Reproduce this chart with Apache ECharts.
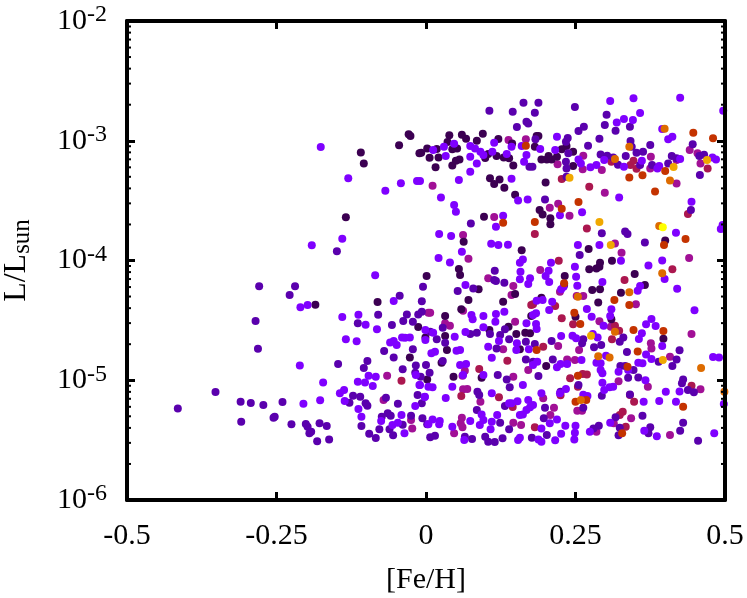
<!DOCTYPE html>
<html>
<head>
<meta charset="utf-8">
<style>
  html, body { margin: 0; padding: 0; background: #fff; }
  #main { width: 747px; height: 598px; }
</style>
<script src="https://cdn.jsdelivr.net/npm/echarts@6/dist/echarts.min.js"></script>
</head>
<body>
<div id="main"></div>
<script>
// every point is [Fe/H, log10(L/Lsun)], grouped by marker colour
const darkPoints = [[-0.109,-3.099],[-0.104,-3.191],[-0.134,-3.639],[-0.045,-3.038],[-0.029,-2.946],[-0.026,-2.960],[-0.011,-3.105],
[-0.008,-3.100],[0.002,-3.064],[0.018,-3.069],[0.006,-3.142],[0.021,-3.139],[0.039,-2.955],[0.036,-3.011],[0.044,-3.072],[0.052,-3.064],[0.060,-2.949],[0.067,-2.983],[0.085,-3.000],[0.095,-2.941],[0.044,-3.206],[0.016,-3.222],[0.056,-3.156],[0.050,-3.167],
[0.099,-3.144],[0.104,-3.111],[0.121,-2.986],[0.118,-3.128],[0.130,-3.139],[0.139,-3.147],[0.144,-3.022],[0.146,-3.206],[0.182,-3.050],[0.185,-2.961],[0.188,-2.961],[0.227,-3.072],[0.235,-3.044],[0.246,-3.091],[0.246,-3.211],[0.202,-3.156],[0.210,-3.156],[0.193,-3.156],[0.205,-3.128],[0.219,-3.133],
[0.107,-3.314],[0.123,-3.323],[0.114,-3.361],[0.131,-3.392],[0.149,-3.451],[0.200,-3.348],[0.190,-3.579],[0.195,-3.615],[0.208,-3.648],[0.208,-3.698],[0.097,-3.634],[0.063,-3.843],[0.160,-3.915],[0.272,-3.904],[0.400,-3.832],[0.291,-4.018],[0.290,-4.052],[0.055,-4.071],[0.311,-4.002],[0.273,-4.074],
[-0.185,-4.369],[-0.081,-4.347],[0.001,-4.130],[-0.013,-4.555],[-0.001,-4.642],[-0.027,-4.809],[0.002,-4.993],
[0.057,-4.121],[0.088,-4.241],[0.071,-4.330],[0.059,-4.408],[0.032,-4.464],[0.032,-4.631],[0.035,-4.748],[0.026,-4.853],[0.046,-4.970],[0.093,-4.979],[0.106,-4.581],[0.138,-4.553],[0.166,-4.603],[0.174,-4.608],[0.151,-4.614],[0.193,-4.311],[0.176,-4.464],[0.232,-4.130],[0.231,-4.205],[0.285,-4.066],[0.278,-4.246],[0.291,-4.241],[0.288,-4.350],[0.250,-4.469],[0.201,-4.881],[0.157,-4.742],[0.129,-4.344],[0.149,-4.280],[0.310,-4.491],[0.366,-4.205],[0.349,-4.113],[0.326,-4.269],[0.397,-4.653]];

const indigoPoints = [[-0.149,-3.923],
[0.106,-2.749],[0.145,-2.757],[0.163,-2.682],[0.188,-2.682],[0.182,-2.766],[0.152,-2.885],[0.168,-2.841],[0.171,-2.855],[0.249,-2.718],[0.255,-2.919],[0.264,-2.883],[0.302,-2.782],[0.299,-2.869],[0.317,-2.916],[0.341,-2.883],[0.290,-2.983],[0.342,-3.002],[0.344,-3.050],[0.375,-3.036],[0.271,-3.041],[0.352,-3.100],[0.363,-3.091],[0.334,-3.128],[0.292,-3.114],[0.303,-3.125],[0.313,-3.139],[0.321,-3.200],[0.358,-3.203],[0.378,-3.203],[0.405,-3.189],[0.411,-3.128],[0.419,-3.147],[0.457,-3.128],[0.465,-3.117],[0.458,-3.286],[0.446,-3.030],[0.366,-3.849],[0.337,-3.779],[0.333,-3.757],[0.294,-3.773],[0.443,-3.579],[0.257,-3.954],[0.075,-3.690],[0.178,-3.217],[0.173,-3.217],[0.235,-3.231],[0.234,-3.175],[0.235,-3.300],[0.238,-3.105],[0.234,-3.008],[0.237,-2.977],[0.183,-2.988],[0.199,-3.490],
[-0.415,-5.235],[-0.352,-5.098],[-0.310,-5.179],[-0.293,-5.190],[-0.272,-5.207],[-0.240,-5.182],[-0.309,-5.346],[-0.253,-5.304],[-0.255,-5.313],[-0.225,-5.368],[-0.201,-5.365],[-0.198,-5.388],[-0.195,-5.443],[-0.192,-5.430],[-0.178,-5.360],[-0.166,-5.382],[-0.182,-5.510],[-0.162,-5.494],[-0.279,-4.216],[-0.219,-4.216],[-0.228,-4.288],[-0.285,-4.505],[-0.281,-4.736],[-0.147,-4.864],[-0.104,-4.898],[-0.098,-4.839],[-0.070,-4.756],[-0.054,-4.809],[-0.039,-4.909],[-0.022,-4.742],[-0.018,-4.937],[-0.017,-4.876],[0,-4.873],[-0.122,-5.129],[-0.110,-5.137],[-0.128,-5.187],[-0.101,-5.193],[-0.098,-5.212],[-0.108,-5.382],[-0.095,-5.446],[-0.084,-5.482],[-0.078,-5.410],[-0.061,-5.410],[-0.055,-5.460],[-0.074,-5.304],[-0.064,-5.276],[-0.059,-5.296],[-0.047,-5.196],[-0.067,-5.146],[-0.025,-5.296],[-0.039,-5.371],[-0.006,-5.318],[0.002,-5.368],[-0.014,-5.123],[-0.007,-5.193],[-0.114,-4.525],[-0.080,-4.453],[-0.057,-4.539],[-0.038,-4.505],[-0.032,-4.450],[-0.022,-4.511],[-0.005,-4.219],[-0.044,-4.294],[-0.007,-4.341],[-0.013,-4.450],[-0.007,-4.427],
[0.053,-4.255],[0.115,-4.085],[0.117,-4.171],[0.131,-4.185],[0.114,-4.163],[0.079,-4.233],[0.006,-4.937],[-0.009,-4.970],[0.028,-4.839],[0.028,-4.561],[0.032,-4.686],[0.007,-4.594],[0.018,-4.658],[0.074,-4.614],[0.085,-4.603],[0.107,-4.614],[0.124,-4.622],[0.132,-4.575],[0.139,-4.658],[0.118,-4.734],[0.167,-4.826],[0.167,-4.678],[0.182,-4.697],[0.210,-4.672],[0.179,-4.845],[0.212,-4.826],[0.188,-4.965],[0.120,-4.956],[0.135,-4.993],[0.140,-5.059],[0.086,-5.095],[0.089,-5.123],[0.085,-5.249],[0.132,-5.215],[0.139,-5.410],[0.124,-5.354],[0.007,-5.477],[0.015,-5.463],[0.065,-5.471],[0.077,-5.491],[0.099,-5.471],[0.104,-5.513],[0.115,-5.516],[0.128,-5.485],[0.177,-5.480],[0.202,-5.457],[0.199,-5.229],[0.197,-5.318],[0.263,-4.658],[0.261,-4.692],[0.281,-4.725],[0.293,-4.706],[0.255,-5.040],[0.225,-5.095],[0.294,-5.129],[0.263,-5.229],[0.324,-4.678],[0.336,-4.764],[0.412,-4.881],[0.419,-4.826],[0.424,-4.750],[0.330,-4.642],[0.325,-4.881],[0.333,-4.881],[0.347,-4.915],[0.355,-4.976],[0.338,-4.979],[0.430,-4.993],[0.428,-5.026],[0.438,-5.082],[0.448,-5.101],[0.341,-5.118],[0.362,-5.296],[0.317,-5.310],[0.324,-5.396],[0.430,-5.354],[0.425,-5.421],[0.455,-5.505],[0.375,-5.393],[0.372,-5.443],[0.322,-5.460],[0.289,-5.379],[0.280,-5.402],[0.389,-4.845]];

const violetPoints = [[-0.176,-3.052],[-0.130,-3.314],[-0.068,-3.417],[-0.042,-3.355],[-0.015,-3.336],[-0.140,-3.818],[-0.191,-3.873],
[0.308,-2.668],[0.347,-2.646],[0.425,-2.641],[0.358,-2.769],[0.331,-2.819],[0.346,-2.827],[0.319,-2.847],[0.395,-2.902],[0.405,-2.988],[0.412,-2.966],[0.497,-2.749],[0.219,-2.966],[0.143,-3.050],[0.114,-3.016],[0.047,-3.025],[0.030,-3.050],[0.012,-3.078],[0.033,-3.128],[0.074,-3.133],[0.085,-3.189],[0.074,-3.258],[0.055,-3.328],[0.143,-3.317],[0.025,-3.473],[0.047,-3.537],[0.050,-3.593],[0.170,-3.490],[0.154,-3.498],[0.117,-3.718],[0.129,-3.626],[0.022,-3.779],[0.042,-3.796],[0.109,-3.860],[0.121,-3.871],[0.137,-3.868],[0.060,-3.927],[0.021,-3.979],[0.040,-4.016],[0.157,-4.018],[0.162,-3.991],[0.209,-4.018],[0.254,-3.871],[0.261,-3.598],[0.224,-3.623],[0.290,-3.871],[0.326,-4.002],[0.372,-4.041],[0.395,-3.999],[0.418,-3.768],[0.323,-3.473],[0.160,-3.044],[0.168,-3.119],[0.164,-3.175],[0.191,-3.069],[0.216,-3.078],[0.255,-3.156],[0.259,-3.189],[0.275,-3.222],[0.285,-3.203],[0.298,-3.161],[0.331,-3.217],[0.361,-3.167],[0.387,-3.231],[0.390,-3.211],[0.425,-3.153],[0.444,-3.509],[0.479,-3.139],[0.485,-3.156],[0.496,-3.704],[0.493,-3.737],[0.096,-3.119],[0.111,-3.091],[0.135,-3.111],[0.074,-3.044],[0.091,-3.091],[0.082,-3.064],[-0.010,-3.336],
[-0.210,-4.391],[-0.198,-4.372],[-0.211,-4.876],[-0.140,-4.472],[-0.101,-4.536],[-0.082,-4.575],[-0.085,-4.124],[-0.054,-4.338],[-0.113,-4.453],[-0.134,-4.658],[-0.116,-4.675],[-0.060,-4.684],[-0.054,-4.672],[-0.049,-4.706],[-0.040,-4.642],[-0.035,-4.645],[-0.027,-4.642],[-0.001,-4.581],[-0.001,-4.664],[-0.096,-4.962],[-0.084,-4.970],[-0.114,-5.012],[-0.102,-5.018],[-0.089,-5.048],[-0.172,-5.018],[-0.144,-5.109],[-0.137,-5.082],[-0.177,-5.168],[-0.205,-5.196],[-0.136,-5.173],[-0.113,-5.240],[-0.108,-5.304],[-0.075,-5.340],[-0.047,-5.354],[-0.041,-5.290],[-0.036,-5.443],[-0.018,-5.215],[-0.002,-5.140],[-0.011,-5.040],[-0.017,-4.956],[-0.056,-5.374],
[0.249,-4.052],[0.158,-4.093],[0.174,-4.149],[0.171,-4.196],[0.200,-4.130],[0.205,-4.085],[0.206,-4.180],[0.157,-4.157],[0.251,-4.135],[0.253,-4.210],[0.226,-4.241],[0.230,-4.219],[0.295,-4.180],[0.354,-4.252],[0.358,-4.213],[0.399,-4.155],[0.420,-4.235],[0.066,-4.205],[0.012,-4.603],[0.048,-4.636],[0.066,-4.597],[0.096,-4.464],[0.076,-4.455],[0.078,-4.491],[0.117,-4.447],[0.131,-4.427],[0.116,-4.511],[0.168,-4.525],[0.179,-4.455],[0.184,-4.441],[0.184,-4.530],[0.185,-4.572],[0.206,-4.414],[0.211,-4.344],[0.185,-4.336],[0.195,-4.330],[0.269,-4.405],[0.277,-4.469],[0.297,-4.544],[0.310,-4.408],[0.308,-4.464],[0.096,-4.558],[0.122,-4.672],[0.104,-4.720],[0.152,-4.692],[0.151,-4.748],[0.172,-4.742],[0.110,-4.812],[0.179,-4.873],[0.186,-4.845],[0.226,-4.631],[0.245,-4.628],[0.251,-4.650],[0.279,-4.614],[0.287,-4.642],[0.285,-4.853],[0.292,-4.859],[0.301,-4.795],[0.260,-4.831],[0.236,-4.864],[0.225,-4.864],[0.219,-4.892],[0.292,-4.915],[0.295,-4.942],[0.322,-4.929],[0.338,-4.915],[0.355,-4.853],[0.362,-4.859],[0.368,-4.784],[0.377,-4.823],[0.368,-4.533],[0.377,-4.489],[0.384,-4.547],[0.361,-4.608],[0.356,-4.656],[0.395,-4.714],[0.449,-4.416],[0.490,-4.809],[0.480,-4.806],[0.057,-4.873],[0.067,-4.864],[0.051,-4.753],[0.057,-4.748],[0.009,-4.775],[0.015,-4.761],[0.062,-4.956],[0.096,-4.956],[0.044,-5.054],[0.011,-5.059],[0.004,-5.054],[-0.010,-5.040],[-0.002,-5.137],[0.033,-5.148],[0.110,-5.109],[0.162,-5.040],[0.193,-5.109],[0.171,-5.165],[0.153,-5.176],[0.143,-5.193],[0.139,-5.193],[0.179,-5.207],[0.174,-5.226],[0.168,-5.249],[0.162,-5.285],[0.157,-5.290],[0.119,-5.290],[0.093,-5.285],[0.096,-5.332],[0.074,-5.340],[0.090,-5.374],[0.110,-5.346],[0.108,-5.410],[0.219,-5.327],[0.207,-5.360],[0.193,-5.402],[0.233,-5.379],[0.250,-5.379],[0.249,-5.438],[0.248,-5.494],[0.226,-5.446],[0.216,-5.502],[0.193,-5.513],[0.188,-5.494],[0.154,-5.499],[0.157,-5.480],[0.064,-5.499],[0.023,-5.340],[0.022,-5.368],[0.011,-5.327],[0.004,-5.368],[0.044,-5.388],[0.263,-5.121],[0.270,-5.132],[0.234,-5.073],[0.224,-5.109],[0.295,-5.020],[0.313,-5.054],[0.307,-5.059],[0.298,-5.082],[0.367,-5.001],[0.390,-5.173],[0.364,-5.179],[0.401,-5.095],[0.418,-5.179],[0.424,-5.093],[0.498,-5.198],[0.482,-5.443],[0.274,-5.430],[0.308,-5.354],[0.365,-5.421],[0.386,-5.468]];

const magentaPoints = [[0.011,-3.375],[0.138,-2.994],[0.167,-2.988],[0.220,-3.197],[0.263,-3.125],[0.376,-3.133],[0.299,-3.434],[0.221,-3.526],[0.207,-3.559],[0.240,-3.626],[0.114,-3.637],[0.062,-3.787],[0.071,-3.985],[0.327,-3.935],[0.440,-3.979],[0.316,-3.857],[0.419,-3.356],[0.441,-3.078],[0.454,-3.105],[0.459,-3.189],[0.294,-3.245],[0.262,-3.239],[0.375,-3.231],[0.419,-3.161],[0.191,-4.080],
[-0.065,-4.962],[-0.023,-5.402],[-0.071,-5.165],[-0.025,-5.332],[0.004,-4.436],
[0.146,-4.213],[0.143,-4.288],[0.007,-4.436],[0.062,-4.419],[0.040,-4.544],[0.032,-4.525],[0.129,-4.742],[0.149,-4.511],[0.221,-4.714],[0.256,-4.748],[0.249,-4.831],[0.236,-4.826],[0.196,-5.151],[0.214,-5.229],[0.208,-5.290],[0.060,-5.313],[0.058,-5.360],[0.061,-5.393],[0.047,-5.443],[0.146,-5.354],[0.159,-5.374],[0.091,-5.179],[0.062,-5.076],[0.069,-5.073],[0.146,-4.970],[0.171,-4.915],[0.065,-4.920],[0.061,-4.962],[0.290,-4.508],[0.309,-4.553],[0.314,-5.360],[0.285,-5.430],[0.343,-5.318],[0.408,-5.457],[0.322,-5.009],[0.253,-5.254],[0.261,-5.254],[0.371,-5.054],[0.459,-5.076],[0.376,-4.692],[0.377,-4.734],[0.351,-4.366],[0.104,-4.149],[0.252,-4.297],[0.263,-4.297],[0.224,-4.260],[0.444,-4.614],[0.408,-4.803]];

const crimsonPoints = [[0.227,-3.320],[0.273,-3.384],[0.269,-3.732],[0.182,-3.779],[0.438,-3.612],[0.471,-3.231],[0.352,-3.233],[0.342,-3.203],[0.310,-3.175],[0.347,-3.167],[0.412,-4.074],[0.222,-4.002],
[-0.041,-5.004],
[0.136,-4.837],[0.179,-4.366],[0.176,-4.372],[0.216,-4.380],[0.227,-4.483],[0.246,-4.533],[0.196,-4.720],[0.241,-4.984],[0.262,-4.948],[0.269,-4.951],[0.254,-5.054],[0.225,-5.126],[0.122,-5.143],[0.145,-5.224],[0.182,-5.393],[0.324,-5.290],[0.329,-5.263],[0.334,-5.388],[0.341,-5.123],[0.348,-5.179],[0.316,-4.544],[0.323,-4.586],[0.311,-4.658],[0.444,-5.045],[0.059,-5.132],[0.332,-4.163],[0.089,-4.906]];

const redPoints = [[0.167,-3.041],[0.255,-3.512],[0.227,-3.567],[0.129,-3.684],[0.182,-3.679],[0.383,-3.423],[0.398,-3.871],[0.434,-3.821],[0.400,-3.253],[0.340,-3.306],[0.362,-3.289],[0.447,-2.933],[0.480,-2.980],
[0.185,-4.748],[0.248,-4.436],[0.258,-4.530],[0.315,-4.330],[0.340,-4.372],[0.250,-5.179],[0.268,-5.165],[0.430,-5.221],[0.328,-5.443],[0.347,-4.581],[0.337,-4.887],[0.254,-4.962],[0.354,-4.759],[0.397,-4.589],[0.231,-4.191]];

const orangePoints = [[0.399,-2.899],[0.408,-3.331],[0.390,-3.712],[0.340,-3.050],[0.316,-3.153],
[0.340,-4.266],[0.288,-4.800],[0.316,-4.594],[0.395,-4.107],[0.460,-4.898],[0.499,-5.095],[0.259,-5.165],[0.307,-4.809],[0.254,-4.302]];

const amberPoints = [[0.240,-3.309],[0.290,-3.679],[0.309,-3.871],[0.414,-3.220],[0.470,-3.161],[0.396,-4.831],[0.276,-4.628]];

const yellowPoints = [[0.396,-3.723]];

const xTickLabels = ["-0.5", "-0.25", "0", "0.25", "0.5"];
const yDecades = [-6, -5, -4, -3];
const minorMultiples = [2, 3, 4, 5, 6, 7, 8, 9];

const myChart = echarts.init(document.getElementById("main"));

const font = "'Liberation Serif', 'Times New Roman', serif";
const toL = (p) => [p[0], Math.pow(10, p[1])];

// draw order: warm magenta under the violets, hot colours on top
const groups = [
  [magentaPoints, "#a11096"],
  [crimsonPoints, "#ab174f"],
  [darkPoints, "#3c0052"],
  [indigoPoints, "#5a00ad"],
  [violetPoints, "#7f00ff"],
  [redPoints, "#c43300"],
  [orangePoints, "#dd6b00"],
  [amberPoints, "#f0a800"],
  [yellowPoints, "#ffff00"],
];

const minorTicks = [];
yDecades.forEach((d) => {
  minorMultiples.forEach((m) => minorTicks.push(m * Math.pow(10, d)));
});

const pointSeries = groups.map(([points, color]) => ({
  type: "scatter",
  data: points.map(toL),
  symbol: "circle",
  symbolSize: 8,
  itemStyle: { color: color, opacity: 1 },
  silent: true,
  z: 2,
}));

// log minor ticks on both sides of the frame
const minorTickSeries = [
  [-0.5, [2, 0]],
  [0.5, [-2, 0]],
].map(([x, offset]) => ({
  type: "scatter",
  data: minorTicks.map((v) => [x, v]),
  symbol: "rect",
  symbolSize: [4, 2],
  symbolOffset: offset,
  itemStyle: { color: "#000", opacity: 1 },
  silent: true,
  clip: false,
  z: 6,
}));

const axisLine = { show: true, onZero: false, lineStyle: { color: "#000", width: 4 } };
const axisTick = { show: true, inside: true, length: 8, lineStyle: { color: "#000", width: 3 } };
const textStyle = { fontFamily: font, fontSize: 30, color: "#000" };

const xBase = {
  type: "value",
  min: -0.5,
  max: 0.5,
  interval: 0.25,
  splitLine: { show: false },
  axisLine: axisLine,
  axisTick: axisTick,
  z: 5,
};
const yBase = {
  type: "log",
  logBase: 10,
  min: 1e-6,
  max: 1e-2,
  splitLine: { show: false },
  minorTick: { show: false },
  axisLine: axisLine,
  axisTick: axisTick,
  z: 5,
};

const option = {
  animation: false,
  backgroundColor: "#fff",
  grid: { left: 127, right: 22, top: 21, bottom: 98, outerBoundsMode: "none" },
  xAxis: [
    {
      ...xBase,
      position: "bottom",
      name: "[Fe/H]",
      nameLocation: "middle",
      nameGap: 65,
      nameTextStyle: textStyle,
      axisLabel: {
        ...textStyle,
        margin: 21,
        formatter: (v) => xTickLabels[Math.round((v + 0.5) / 0.25)],
      },
    },
    { ...xBase, position: "top", axisLabel: { show: false } },
  ],
  yAxis: [
    {
      ...yBase,
      position: "left",
      name: "{m|L/L}{s|sun}",
      nameLocation: "middle",
      nameGap: 92,
      nameTextStyle: {
        ...textStyle,
        rich: {
          m: { ...textStyle, fontSize: 32 },
          s: { fontFamily: font, fontSize: 25, color: "#000", verticalAlign: "bottom", padding: [12, 0, 0, 0] },
        },
      },
      axisLabel: {
        margin: 20,
        color: "#000",
        formatter: (v) => "{b|10}{e|" + Math.round(Math.log10(v)) + "}",
        rich: {
          b: { ...textStyle },
          e: { fontFamily: font, fontSize: 24, color: "#000", verticalAlign: "top", padding: [0, 0, 12, 0] },
        },
      },
    },
    { ...yBase, position: "right", axisLabel: { show: false } },
  ],
  series: pointSeries.concat(minorTickSeries),
};

option && myChart.setOption(option);
</script>
</body>
</html>
